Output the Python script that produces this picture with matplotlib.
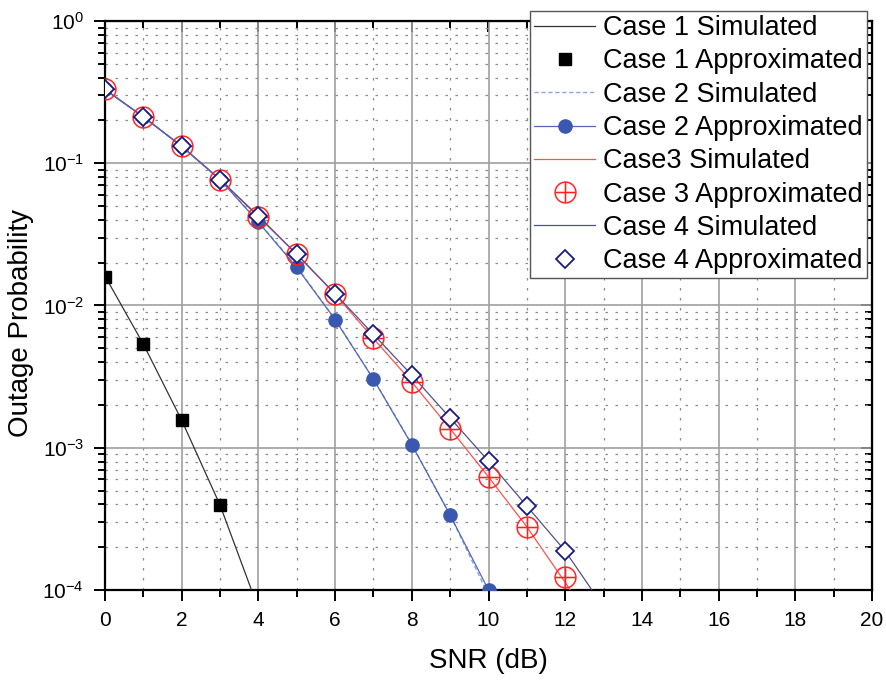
import numpy as np
import matplotlib
matplotlib.use("Agg")
import matplotlib.pyplot as plt
from matplotlib.ticker import LogLocator, MultipleLocator, NullFormatter

plt.rcParams['font.family'] = ['Liberation Sans', 'DejaVu Sans']
plt.rcParams['axes.unicode_minus'] = False
plt.rcParams['mathtext.fontset'] = 'custom'
plt.rcParams['mathtext.rm'] = 'Liberation Sans'

# SNR grid (dB)
snr_c1 = [0, 1, 2, 3, 4]
snr_c2 = [0, 1, 2, 3, 4, 5, 6, 7, 8, 9, 10, 11]
snr_c34 = [0, 1, 2, 3, 4, 5, 6, 7, 8, 9, 10, 11, 12, 13]
snr_pts = [0, 1, 2, 3, 4, 5, 6, 7, 8, 9, 10, 11, 12]

# Case 1
case1_sim = [0.0161, 0.00535, 0.00156, 0.000395, 0.000074]
case1_apx = [0.0159, 0.00532, 0.00156, 0.000395]

# Case 2
case2_sim = [0.33, 0.212, 0.1316, 0.0768, 0.0390, 0.0188, 0.0080, 0.00305,
             0.00106, 0.000336, 0.000092, 0.000022]
case2_apx = [0.33, 0.212, 0.1316, 0.0768, 0.0385, 0.0185, 0.00797, 0.00303,
             0.00105, 0.000336, 0.000100]

# Case 3
case3_sim = [0.33, 0.212, 0.1316, 0.0768, 0.0420, 0.0229, 0.0120, 0.00587,
             0.00290, 0.00136, 0.000624, 0.000278, 0.000113, 0.000045]
case3_apx = [0.33, 0.212, 0.1316, 0.0768, 0.0420, 0.0229, 0.0120, 0.00587,
             0.00290, 0.00136, 0.000624, 0.000278, 0.000124]

# Case 4
case4_sim = [0.33, 0.212, 0.1316, 0.0768, 0.0426, 0.0229, 0.0121, 0.00627,
             0.00324, 0.00162, 0.000805, 0.000389, 0.000188, 0.000076]
case4_apx = [0.33, 0.212, 0.1316, 0.0768, 0.0426, 0.0229, 0.0121, 0.00627,
             0.00324, 0.00162, 0.000805, 0.000389, 0.000188]

FS = 20       # axis titles
LEG_FS = 19.5 # legend entries
TICK_FS = 15  # tick labels

fig = plt.figure(figsize=(8.86, 6.81), dpi=100)
ax = fig.add_axes([105 / 886, 1 - 590 / 681, (872 - 105) / 886, (590 - 21) / 681])

ax.plot(snr_c1, case1_sim, color='#333333', lw=0.9, label='Case 1 Simulated', zorder=3)
ax.plot(snr_c1[:4], case1_apx, ls='none', marker='s', ms=9, color='black',
        label='Case 1 Approximated', zorder=4)
ax.plot(snr_c2, case2_sim, color='#8CA4DC', lw=1.0, ls=(0, (3, 2)),
        label='Case 2 Simulated', zorder=3)
ax.plot(snr_pts[:11], case2_apx, color='#5068B8', lw=0.9, marker='o', ms=9.5,
        mfc='#3A58B0', mec='#3A58B0', label='Case 2 Approximated', zorder=4)
ax.plot(snr_c34, case3_sim, color='#FF5050', lw=0.9, label='Case3 Simulated', zorder=3)
ax.plot(snr_pts, case3_apx, ls='none', marker='$\\bigoplus$', ms=16, color='#FF2020',
        mew=0.1, label='Case 3 Approximated', zorder=5)
ax.plot(snr_c34, case4_sim, color='#505090', lw=0.9, label='Case 4 Simulated', zorder=3)
ax.plot(snr_pts, case4_apx, ls='none', marker='D', ms=9, mfc='white', mec='#1A1A80',
        mew=1.3, label='Case 4 Approximated', zorder=6)

ax.set_yscale('log')
ax.set_xlim(0, 20)
ax.set_ylim(1e-4, 1)
ax.xaxis.set_major_locator(MultipleLocator(2))
ax.xaxis.set_minor_locator(MultipleLocator(1))
ax.yaxis.set_major_locator(LogLocator(base=10, numticks=10))
ax.yaxis.set_minor_locator(LogLocator(base=10, subs=np.arange(2, 10), numticks=100))
ax.yaxis.set_minor_formatter(NullFormatter())

ax.grid(which='major', color='#A0A0A0', lw=1.2, ls='-', zorder=0)
ax.grid(which='minor', color='#8C8C8C', lw=0.9, ls=(0, (2, 6)), zorder=0)
ax.set_axisbelow(True)

for sp in ax.spines.values():
    sp.set_linewidth(1.6)
ax.tick_params(which='both', direction='out', top=False, right=False,
               labelsize=TICK_FS, width=1.4, pad=7)
ax.tick_params(which='major', length=8)
ax.tick_params(which='minor', length=5)

secx = ax.secondary_xaxis('top')
secx.xaxis.set_major_locator(MultipleLocator(2))
secx.xaxis.set_minor_locator(MultipleLocator(1))
secx.tick_params(which='both', direction='in', labeltop=False, width=1.4)
secx.tick_params(which='major', length=8)
secx.tick_params(which='minor', length=5)
secy = ax.secondary_yaxis('right')
secy.yaxis.set_major_locator(LogLocator(base=10, numticks=10))
secy.yaxis.set_minor_locator(LogLocator(base=10, subs=np.arange(2, 10), numticks=100))
secy.tick_params(which='both', direction='in', labelright=False, width=1.4)
secy.tick_params(which='major', length=8)
secy.tick_params(which='minor', length=5)
secy.yaxis.set_minor_formatter(NullFormatter())

ax.set_xlabel('SNR (dB)', fontsize=FS)
ax.xaxis.set_label_coords(0.5, -(648 - 590) / 569)
ax.xaxis.label.set_va('top')
ax.set_ylabel('Outage Probability', fontsize=FS)
ax.yaxis.set_label_coords(-(105 - 34) / 767, 1 - (323 - 21) / 569)

leg = fig.legend(loc='upper left', bbox_to_anchor=(530 / 886, 1 - 11 / 681),
                 fontsize=LEG_FS, frameon=True, fancybox=False, framealpha=1,
                 edgecolor='#555555', handlelength=2.25, handletextpad=0.3,
                 borderpad=0.15, labelspacing=0.27, borderaxespad=0)
leg.get_frame().set_linewidth(1.0)
leg.set_zorder(10)

fig.savefig('out.png', dpi=100)
